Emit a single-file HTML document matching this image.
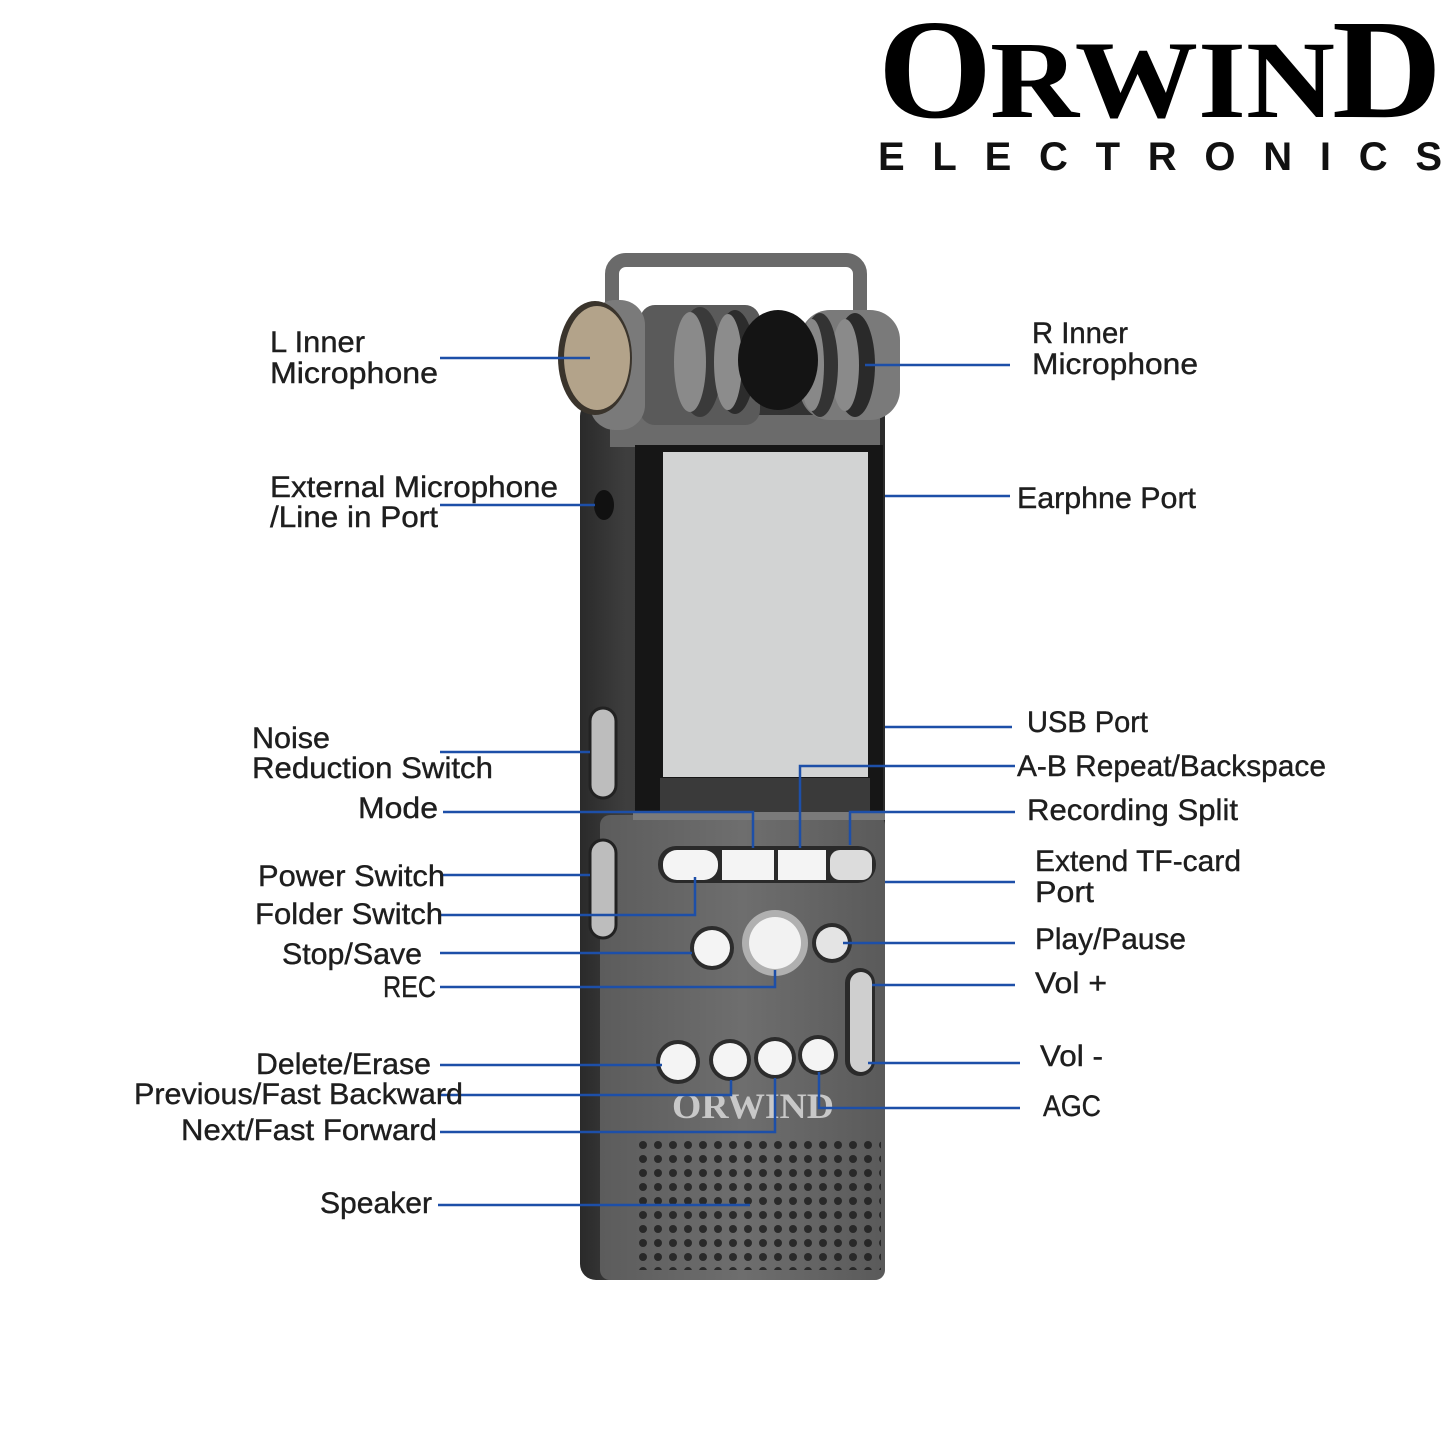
<!DOCTYPE html>
<html><head><meta charset="utf-8"><style>
html,body{margin:0;padding:0;background:#fff;}
svg{display:block;}
.l{font-family:"Liberation Sans",sans-serif;font-size:30px;fill:#1e1e1e;stroke:#1e1e1e;stroke-width:0.4;}
.c{stroke:#1d4fa8;stroke-width:2.5;fill:none;}
</style></head><body>
<svg width="1445" height="1445" viewBox="0 0 1445 1445" xmlns="http://www.w3.org/2000/svg">
<defs>
<pattern id="spk" x="636" y="1138" width="15" height="14" patternUnits="userSpaceOnUse">
<circle cx="7" cy="7" r="4" fill="#1e1e1e"/>
</pattern>
<linearGradient id="bd" x1="0" x2="1">
<stop offset="0" stop-color="#2a2a2a"/><stop offset="0.15" stop-color="#3e3e3e"/><stop offset="1" stop-color="#2c2c2c"/>
</linearGradient>
<linearGradient id="pn" x1="0" x2="1">
<stop offset="0" stop-color="#5c5c5c"/><stop offset="0.5" stop-color="#6e6e6e"/><stop offset="1" stop-color="#5a5a5a"/>
</linearGradient>
</defs>

<g font-family="Liberation Serif,serif" font-weight="bold" fill="#000">
<text x="878" y="117" font-size="142" textLength="114" lengthAdjust="spacingAndGlyphs">O</text>
<text x="990" y="117" font-size="110" textLength="345" lengthAdjust="spacingAndGlyphs">RWIN</text>
<text x="1332" y="117" font-size="142" textLength="110" lengthAdjust="spacingAndGlyphs">D</text>
</g>
<text x="878" y="170" font-family="Liberation Sans,sans-serif" font-weight="bold" font-size="40" fill="#111" textLength="564" lengthAdjust="spacing">ELECTRONICS</text>

<rect x="612" y="260" width="248" height="170" rx="14" fill="none" stroke="#6a6a6a" stroke-width="14"/>

<rect x="580" y="400" width="305" height="880" rx="16" fill="url(#bd)"/>
<rect x="600" y="815" width="285" height="465" rx="10" fill="url(#pn)"/>
<rect x="610" y="415" width="270" height="32" fill="#6b6b6b"/>
<rect x="635" y="445" width="248" height="372" fill="#161616"/>
<rect x="663" y="452" width="205" height="325" fill="#d2d3d3"/>
<rect x="660" y="778" width="210" height="36" fill="#3a3a3a"/>
<rect x="633" y="812" width="252" height="8" fill="#7a7a7a"/>

<rect x="640" y="305" width="120" height="120" rx="15" fill="#5a5a5a"/>
<ellipse cx="700" cy="362" rx="22" ry="55" fill="#3a3a3a"/>
<ellipse cx="690" cy="362" rx="16" ry="50" fill="#8a8a8a"/>
<ellipse cx="735" cy="362" rx="20" ry="52" fill="#2c2c2c"/>
<ellipse cx="728" cy="362" rx="14" ry="48" fill="#8c8c8c"/>
<rect x="590" y="300" width="55" height="130" rx="25" fill="#7a7a7a"/>
<ellipse cx="595" cy="358" rx="37" ry="57" fill="#3a342c"/>
<ellipse cx="597" cy="358" rx="33" ry="52" fill="#b3a38a"/>
<rect x="800" y="310" width="100" height="110" rx="30" fill="#7a7a7a"/>
<ellipse cx="855" cy="365" rx="20" ry="52" fill="#2a2a2a"/>
<ellipse cx="845" cy="365" rx="14" ry="46" fill="#8a8a8a"/>
<ellipse cx="820" cy="365" rx="18" ry="52" fill="#333"/>
<ellipse cx="812" cy="365" rx="12" ry="46" fill="#888"/>
<ellipse cx="778" cy="360" rx="40" ry="50" fill="#141414"/>

<ellipse cx="604" cy="505" rx="10" ry="15" fill="#111"/>
<rect x="590" y="708" width="26" height="90" rx="13" fill="#bdbdbd" stroke="#222" stroke-width="3"/>
<rect x="590" y="840" width="26" height="98" rx="13" fill="#bdbdbd" stroke="#222" stroke-width="3"/>

<rect x="658" y="846" width="218" height="37" rx="18" fill="#2a2a2a"/>
<rect x="663" y="850" width="55" height="30" rx="14" fill="#f4f4f4"/>
<rect x="722" y="850" width="52" height="30" fill="#f4f4f4"/>
<rect x="778" y="850" width="48" height="30" fill="#f4f4f4"/>
<rect x="830" y="850" width="42" height="30" rx="10" fill="#dcdcdc"/>

<circle cx="712" cy="948" r="22" fill="#2c2c2c"/><circle cx="712" cy="948" r="18" fill="#f4f4f4"/>
<circle cx="775" cy="943" r="33" fill="#b0b0b0"/><circle cx="775" cy="943" r="26" fill="#f2f2f2"/>
<circle cx="832" cy="943" r="20" fill="#2c2c2c"/><circle cx="832" cy="943" r="16" fill="#e4e4e4"/>
<rect x="845" y="968" width="30" height="108" rx="15" fill="#2a2a2a"/>
<rect x="850" y="972" width="22" height="100" rx="11" fill="#cfcfcf"/>
<circle cx="678" cy="1062" r="22" fill="#2c2c2c"/><circle cx="678" cy="1062" r="18" fill="#f4f4f4"/>
<circle cx="730" cy="1060" r="21" fill="#2c2c2c"/><circle cx="730" cy="1060" r="17" fill="#f4f4f4"/>
<circle cx="775" cy="1058" r="21" fill="#2c2c2c"/><circle cx="775" cy="1058" r="17" fill="#f4f4f4"/>
<circle cx="818" cy="1055" r="20" fill="#2c2c2c"/><circle cx="818" cy="1055" r="16" fill="#f4f4f4"/>
<text x="672" y="1118" font-family="Liberation Serif,serif" font-weight="bold" font-size="36" fill="#c8c8c8" textLength="162" lengthAdjust="spacingAndGlyphs">ORWIND</text>

<rect x="636" y="1138" width="245" height="132" fill="url(#spk)" opacity="0.85"/>

<g class="c">
<path d="M440 358H590"/>
<path d="M865 365H1010"/>
<path d="M440 505H595"/>
<path d="M885 496H1010"/>
<path d="M440 752H590"/>
<path d="M885 727H1012"/>
<path d="M443 812H753V848"/>
<path d="M1015 766H800V848"/>
<path d="M1015 812H850V845"/>
<path d="M440 875H590"/>
<path d="M885 882H1015"/>
<path d="M440 915H695V877"/>
<path d="M440 953H692"/>
<path d="M843 943H1015"/>
<path d="M440 987H775V970"/>
<path d="M872 985H1015"/>
<path d="M440 1065H662"/>
<path d="M868 1063H1020"/>
<path d="M440 1095H731V1080"/>
<path d="M819 1072V1108H1020"/>
<path d="M440 1132H775V1078"/>
<path d="M438 1205H750"/>
</g>

<g lengthAdjust="spacingAndGlyphs">
<text class="l" lengthAdjust="spacingAndGlyphs" x="270" y="352" textLength="95">L Inner</text>
<text class="l" lengthAdjust="spacingAndGlyphs" x="270" y="383" textLength="168">Microphone</text>
<text class="l" lengthAdjust="spacingAndGlyphs" x="1032" y="343" textLength="96">R Inner</text>
<text class="l" lengthAdjust="spacingAndGlyphs" x="1032" y="374" textLength="166">Microphone</text>
<text class="l" lengthAdjust="spacingAndGlyphs" x="270" y="497" textLength="288">External Microphone</text>
<text class="l" lengthAdjust="spacingAndGlyphs" x="270" y="527" textLength="168">/Line in Port</text>
<text class="l" lengthAdjust="spacingAndGlyphs" x="1017" y="508" textLength="179">Earphne Port</text>
<text class="l" lengthAdjust="spacingAndGlyphs" x="252" y="748" textLength="78">Noise</text>
<text class="l" lengthAdjust="spacingAndGlyphs" x="252" y="778" textLength="241">Reduction Switch</text>
<text class="l" lengthAdjust="spacingAndGlyphs" x="358" y="818" textLength="80">Mode</text>
<text class="l" lengthAdjust="spacingAndGlyphs" x="1027" y="732" textLength="121">USB Port</text>
<text class="l" lengthAdjust="spacingAndGlyphs" x="1017" y="776" textLength="309">A-B Repeat/Backspace</text>
<text class="l" lengthAdjust="spacingAndGlyphs" x="1027" y="820" textLength="211">Recording Split</text>
<text class="l" lengthAdjust="spacingAndGlyphs" x="258" y="886" textLength="187">Power Switch</text>
<text class="l" lengthAdjust="spacingAndGlyphs" x="255" y="924" textLength="188">Folder Switch</text>
<text class="l" lengthAdjust="spacingAndGlyphs" x="1035" y="871" textLength="206">Extend TF-card</text>
<text class="l" lengthAdjust="spacingAndGlyphs" x="1035" y="902" textLength="59">Port</text>
<text class="l" lengthAdjust="spacingAndGlyphs" x="282" y="964" textLength="140">Stop/Save</text>
<text class="l" lengthAdjust="spacingAndGlyphs" x="1035" y="949" textLength="151">Play/Pause</text>
<text class="l" lengthAdjust="spacingAndGlyphs" x="383" y="997" textLength="53">REC</text>
<text class="l" lengthAdjust="spacingAndGlyphs" x="1035" y="993" textLength="72">Vol +</text>
<text class="l" lengthAdjust="spacingAndGlyphs" x="256" y="1074" textLength="175">Delete/Erase</text>
<text class="l" lengthAdjust="spacingAndGlyphs" x="1040" y="1066" textLength="63">Vol -</text>
<text class="l" lengthAdjust="spacingAndGlyphs" x="134" y="1104" textLength="329">Previous/Fast Backward</text>
<text class="l" lengthAdjust="spacingAndGlyphs" x="1043" y="1116" textLength="58">AGC</text>
<text class="l" lengthAdjust="spacingAndGlyphs" x="181" y="1140" textLength="256">Next/Fast Forward</text>
<text class="l" lengthAdjust="spacingAndGlyphs" x="320" y="1213" textLength="112">Speaker</text>
</g>
</svg>
</body></html>
